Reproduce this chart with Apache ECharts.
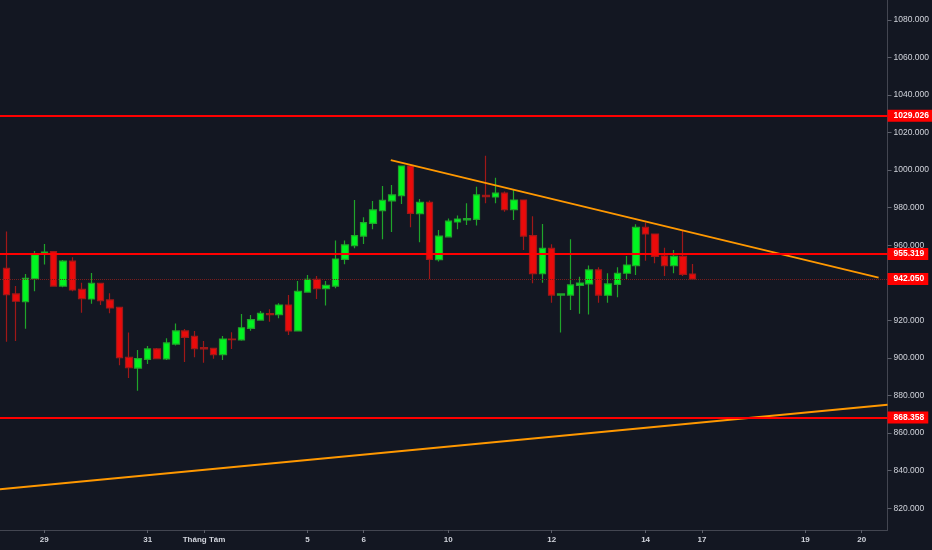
<!DOCTYPE html>
<html>
<head>
<meta charset="utf-8">
<title>Chart</title>
<script src="https://cdn.jsdelivr.net/npm/echarts@6/dist/echarts.min.js"></script>
<style>
  html, body { margin: 0; padding: 0; background: #131722; }
  #chart { width: 932px; height: 550px; }
</style>
</head>
<body>
<div id="chart"></div>
<script>
// giá mở / đóng / thấp / cao của từng nến
var openVals = [947.7, 934.1, 930.0, 942.2, 955.4, 956.6, 938.3, 951.6, 936.6, 931.4,
  939.7, 930.9, 927.0, 900.3, 894.6, 899.3, 904.8, 899.5, 907.4, 914.4,
  911.5, 905.5, 905.1, 901.8, 910.1, 909.6, 915.8, 920.2, 923.6, 923.1,
  928.2, 914.4, 935.1, 941.9, 936.9, 938.3, 952.5, 959.8, 964.9, 971.7,
  978.4, 983.6, 986.4, 1002.2, 976.8, 982.9, 952.3, 964.5, 972.4, 973.5,
  973.8, 986.6, 985.7, 987.8, 979.0, 984.1, 965.1, 944.9, 958.4, 933.5,
  933.5, 938.7, 939.4, 946.9, 933.4, 939.2, 945.1, 949.2, 969.6, 966.0,
  954.3, 949.2, 954.1, 944.7];
var closeVals = [933.7, 930.2, 942.4, 955.0, 956.4, 938.3, 951.6, 936.2, 931.6, 939.7,
  930.5, 926.6, 900.2, 894.8, 899.6, 904.8, 899.6, 908.0, 914.4, 911.0,
  905.0, 904.8, 901.8, 910.1, 909.8, 916.1, 920.4, 923.8, 923.1, 928.2,
  914.4, 935.5, 941.9, 936.9, 938.7, 952.7, 960.2, 965.1, 972.1, 978.8,
  983.9, 986.8, 1002.2, 977.0, 982.9, 952.5, 964.9, 972.9, 974.0, 974.2,
  986.8, 985.9, 987.8, 979.0, 984.1, 964.9, 944.9, 958.4, 933.5, 934.1,
  938.9, 939.9, 946.9, 933.5, 939.4, 945.1, 949.5, 969.6, 966.0, 954.1,
  949.2, 954.1, 944.5, 942.05];
var lowVals = [908.7, 909.0, 915.6, 935.5, 949.7, 938.0, 937.6, 935.5, 924.1, 928.9,
  928.2, 923.8, 896.1, 889.3, 882.6, 896.8, 899.6, 898.9, 906.6, 897.9,
  900.4, 897.5, 899.6, 898.9, 904.8, 909.2, 914.5, 919.9, 919.3, 921.1,
  912.2, 914.4, 935.1, 931.4, 928.0, 937.1, 949.9, 958.4, 960.7, 968.5,
  963.2, 967.1, 982.0, 969.6, 961.6, 942.1, 951.3, 964.2, 968.5, 970.8,
  970.5, 982.4, 982.4, 977.9, 973.5, 957.5, 939.8, 940.1, 929.4, 913.6,
  925.5, 923.6, 923.1, 929.4, 929.4, 932.3, 941.9, 944.2, 951.8, 950.4,
  943.7, 945.1, 943.7, 941.5];
var highVals = [967.3, 938.3, 944.7, 957.0, 960.7, 956.6, 952.2, 953.6, 940.1, 945.3,
  939.7, 934.4, 927.0, 913.5, 904.3, 906.4, 905.3, 910.5, 918.3, 915.4,
  914.4, 909.0, 905.1, 911.7, 913.7, 923.4, 922.9, 925.0, 925.9, 929.1,
  933.5, 941.0, 944.2, 943.7, 941.0, 962.5, 962.5, 984.1, 974.9, 983.6,
  991.6, 992.1, 1002.2, 1002.8, 984.6, 983.8, 968.2, 974.3, 975.8, 982.4,
  991.2, 1007.7, 996.0, 988.6, 989.8, 984.1, 975.4, 971.3, 960.5, 934.1,
  963.2, 943.3, 949.3, 948.3, 945.1, 948.3, 954.3, 971.2, 972.1, 966.0,
  958.7, 957.5, 968.1, 950.0];

// nhãn trục thời gian (vị trí nến) và trục giá
var dayTickPos = [4, 15, 21, 32, 38, 47, 58, 68, 74, 85, 91];
var dayTickText = ['29', '31', 'Tháng Tám', '5', '6', '10', '12', '14', '17', '19', '20'];
var priceTicks = [820, 840, 860, 880, 900, 920, 940, 960, 980, 1000, 1020, 1040, 1060, 1080];

// các mức ngang và giá cuối
var levels = [1029.026, 955.319, 868.358];
var lastPrice = 942.05;

// hai đường xu hướng [vị trí nến, giá]
var trendDown = [[40.88, 1005.4], [92.8, 942.8]];
var trendUp = [[-0.713, 830.1], [93.75, 875.1]];

var candles = openVals.map(function (o, i) {
  return [i, o, closeVals[i], lowVals[i], highVals[i]];
});

var tagLabel = {
  show: true,
  position: 'end',
  distance: 0,
  backgroundColor: '#ff0000',
  color: '#ffffff',
  fontFamily: 'Liberation Sans',
  fontSize: 8.5,
  fontWeight: 'bold',
  lineHeight: 10,
  padding: [1, 4, 1, 6]
};

function tagLine(v, extra) {
  var item = { yAxis: v, label: { formatter: v.toFixed(3) } };
  if (extra) item.lineStyle = extra;
  return item;
}

var levelLines = levels.map(function (v) { return tagLine(v); });
levelLines.push(tagLine(lastPrice, { type: 'dotted', color: '#7a1c1c', width: 1 }));

var myChart = echarts.init(document.getElementById('chart'));

var option = {
  backgroundColor: '#131722',
  animation: false,
  grid: { left: 0, right: 44, top: 0, bottom: 20 },
  xAxis: {
    type: 'value',
    min: -0.713,
    max: 93.75,
    axisLine: { onZero: false, lineStyle: { color: '#434651' } },
    axisTick: { customValues: dayTickPos, length: 3, lineStyle: { color: '#5d606b' } },
    axisLabel: {
      customValues: dayTickPos,
      formatter: function (v) { return dayTickText[dayTickPos.indexOf(Math.round(v))]; },
      color: '#d1d4dc',
      fontFamily: 'Liberation Sans',
      fontSize: 8,
      fontWeight: 'bold',
      margin: 6
    },
    splitLine: { show: false }
  },
  yAxis: {
    type: 'value',
    position: 'right',
    min: 808.4,
    max: 1090.6,
    axisLine: { show: true, onZero: false, lineStyle: { color: '#434651' } },
    axisTick: { show: true, customValues: priceTicks, length: 4, lineStyle: { color: '#5d606b' } },
    axisLabel: {
      customValues: priceTicks,
      formatter: function (v) { return v.toFixed(3); },
      color: '#d1d4dc',
      fontFamily: 'Liberation Sans',
      fontSize: 8.5,
      margin: 6
    },
    splitLine: { show: false }
  },
  series: [
    {
      type: 'candlestick',
      data: candles,
      encode: { x: 0, y: [1, 2, 3, 4] },
      barWidth: 7,
      itemStyle: {
        color: '#00f521',
        color0: '#ea0b0b',
        borderColor: '#1fa52a',
        borderColor0: '#a01818',
        borderWidth: 1.2
      },
      markLine: {
        silent: true,
        symbol: ['none', 'none'],
        lineStyle: { color: '#ff0000', width: 2, type: 'solid' },
        label: tagLabel,
        data: levelLines
      }
    },
    {
      type: 'line',
      data: trendDown,
      showSymbol: false,
      lineStyle: { color: '#ff9800', width: 1.8 }
    },
    {
      type: 'line',
      data: trendUp,
      showSymbol: false,
      lineStyle: { color: '#ff9800', width: 1.8 }
    }
  ]
};

myChart.setOption(option);
</script>
</body>
</html>
